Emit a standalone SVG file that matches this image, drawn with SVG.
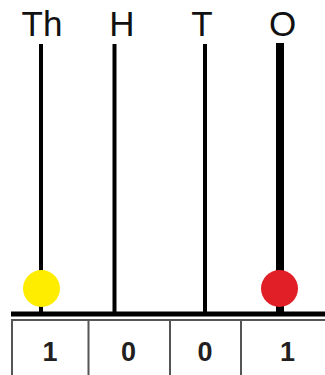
<svg xmlns="http://www.w3.org/2000/svg" width="325" height="375" viewBox="0 0 325 375">
<style>
.lbl{font-family:"Liberation Sans",Arial,sans-serif;font-size:35px;fill:#111;text-anchor:middle}
.dig{font-family:"Liberation Sans",Arial,sans-serif;font-size:27px;font-weight:bold;fill:#231f20;text-anchor:middle}
.rod{stroke:#000;stroke-width:4}
.cell{fill:none;stroke:#555;stroke-width:2}
</style>
<rect width="325" height="375" fill="#fff"/>
<g id="connectors">
<line class="rod" x1="41" y1="44" x2="41" y2="314"/>
<line class="rod" x1="114.5" y1="44" x2="114.5" y2="314"/>
<line class="rod" x1="205" y1="44" x2="205" y2="314"/>
<line class="rod" x1="280" y1="43" x2="280" y2="314" style="stroke-width:8"/>
<line x1="11" y1="314" x2="325" y2="314" stroke="#000" stroke-width="5"/>
</g>
<g id="labels">
<text class="lbl" x="42" y="36">Th</text>
<text class="lbl" x="122" y="36">H</text>
<text class="lbl" x="202" y="36">T</text>
<text class="lbl" x="282.5" y="36">O</text>
</g>
<g id="bead-th"><circle cx="41.5" cy="288.5" r="18.5" fill="#ffed00"/></g>
<g id="bead-o"><circle cx="279.5" cy="288.5" r="18.5" fill="#e01f26"/></g>
<g id="table">
<path class="cell" d="M12 376V320H330M88.5 320V376M170 320V376M241 320V376"/>
<text class="dig" x="50" y="361">1</text>
<text class="dig" x="128.5" y="361">0</text>
<text class="dig" x="205" y="361">0</text>
<text class="dig" x="287.5" y="361">1</text>
</g>
</svg>
